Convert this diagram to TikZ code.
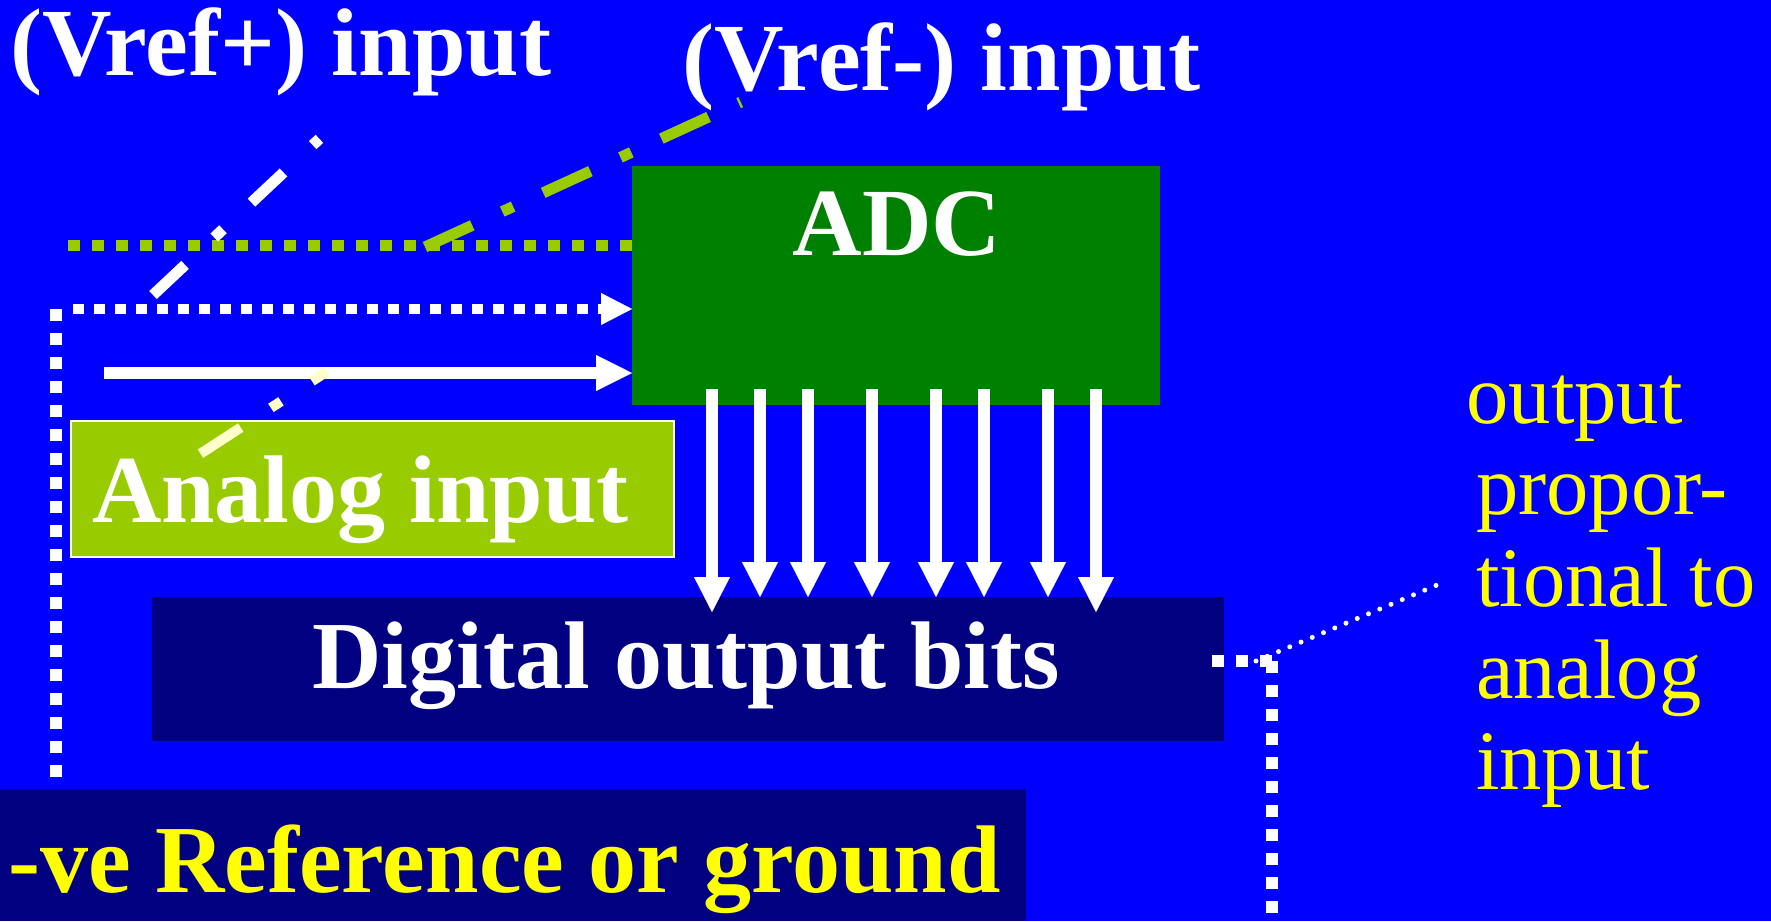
\documentclass[tikz,border=0pt]{standalone}
\usepackage{fontspec}
\setmainfont{Liberation Serif}
\usetikzlibrary{arrows.meta,calc}
\definecolor{bgblue}{HTML}{0000FF}
\definecolor{adcgreen}{HTML}{008000}
\definecolor{limeg}{HTML}{99CC00}
\definecolor{navyb}{HTML}{000080}
\definecolor{paleyel}{HTML}{FFFFCC}
\definecolor{yel}{HTML}{FFFF00}
\begin{document}
\begin{tikzpicture}[x=1pt,y=-1pt,
  box/.style={anchor=north west, inner sep=0pt, outer sep=0pt},
  btext/.style={anchor=base west, inner sep=0pt, outer sep=0pt, font=\fontsize{96.1}{100}\selectfont\bfseries},
  reftext/.style={anchor=base west, inner sep=0pt, outer sep=0pt, text=white, font=\fontsize{96.3}{100}\selectfont\bfseries},
  bitarrow/.style={white, line width=12pt, -{Triangle[length=35pt,width=36pt,line width=0.1pt]}},
  sqdots/.style={white, line width=12pt, dash pattern=on 12pt off 12pt}
]
% canvas
\fill[bgblue] (0,0) rectangle (1771,921);
\useasboundingbox (0,0) rectangle (1771,921);

% boxes
\node[box, fill=adcgreen, minimum width=528pt, minimum height=239pt] (adc) at (632,166) {};
\node[box, fill=limeg, draw=white, line width=2pt, minimum width=603pt, minimum height=136pt] (ana) at (71,421) {};
\node[box, fill=navyb, minimum width=1072pt, minimum height=144pt] (dig) at (152,597) {};
\node[box, fill=navyb, minimum width=1026pt, minimum height=132pt] (gnd) at (0,789) {};

% coordinates
\coordinate (gstart) at (68,245);
\coordinate (vmA) at (425,247);
\coordinate (vmB) at (740.8,102.2);
\coordinate (vpA) at (153,295);
\coordinate (vpB) at (319.4,138.8);
\coordinate (anA) at (200.5,453.7);
\coordinate (anB) at (326.7,371.6);
\coordinate (lv1) at (56,309);
\coordinate (lv2) at (56,777);
\coordinate (dotin) at (73,309);
\coordinate (solin) at (104,373);
\coordinate (r1) at (1212,661);
\coordinate (r2) at (1272,661);
\coordinate (r3) at (1272,921);
\coordinate (t1) at (1256,661);
\coordinate (t2) at (1437,585);
\foreach \i/\x in {1/712,2/760,3/808,4/872,5/936,6/984,7/1048,8/1096}
  \coordinate (b\i) at (\x,389);

% Vref- line (green dotted into ADC) and its leader
\draw[limeg, line width=11pt, dash pattern=on 12pt off 12pt] (gstart) -- (gstart -| adc.west);
\draw[limeg, line width=11pt, dash pattern=on 52pt off 33pt on 12pt off 33pt] (vmA) -- (vmB);

% Vref+ (white dotted arrow) and leader
\draw[sqdots] (lv1) -- (lv2);
\draw[white, line width=10.5pt, dash pattern=on 10.5pt off 10.5pt,
  -{Triangle[length=31pt,width=32pt,line width=0.1pt]}] (dotin) -- (dotin -| adc.west);
\draw[white, line width=11pt, dash pattern=on 44pt off 40pt on 12pt off 39pt] (vpA) -- (vpB);

% analog input arrow and leader
\draw[white, line width=12pt, -{Triangle[length=36pt,width=36pt,line width=0.1pt]}] (solin) -- (solin -| adc.west);
\draw[paleyel, line width=10pt, dash pattern=on 48pt off 36pt on 12pt off 37pt] (anA) -- (anB);

% output bits
\foreach \i in {2,...,7}
  \draw[bitarrow] (b\i) -- (b\i |- dig.north);
\foreach \i in {1,8}
  \draw[bitarrow] (b\i) -- ($(b\i |- dig.north)+(0,15)$);

% right dotted lines
\draw[sqdots] (r1) -- (r2);
\draw[sqdots] (r2) -- (r3);
\draw[white, line width=5pt, line cap=round, dash pattern=on 0pt off 12.2pt] (t1) -- (t2);

% texts
\node[reftext] (vplus) at (10.5,75) {(Vref+) input};
\node[reftext] (vminus) at (682.5,90.5) {(Vref-) input};
\node[reftext, anchor=base] (adct) at ($(adc.north)+(1,89)$) {ADC};
\node[btext, text=white] (anat) at (92,522) {Analog input};
\node[btext, text=white] (digt) at (312.5,688) {Digital output bits};
\node[btext, text=yel] (gndt) at (8.5,892) {-ve Reference or ground};
\node[anchor=base west, inner sep=0pt, text=yel, font=\fontsize{84.5}{91.7}\selectfont] (note) at (1476,423)
  {\begin{tabular}[t]{@{}l@{}}\hspace*{-9.5pt}output\\propor-\\tional to\\analog\\input\end{tabular}};
\end{tikzpicture}
\end{document}
